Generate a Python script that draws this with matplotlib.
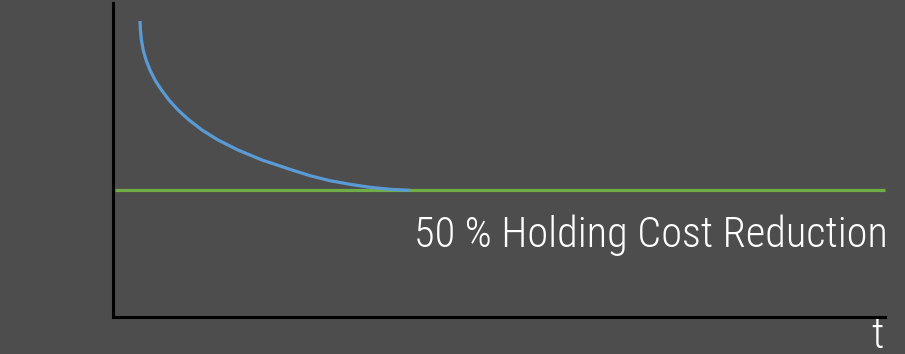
import matplotlib
matplotlib.use('Agg')
import matplotlib.pyplot as plt

# curve (t, cost) in axis units 0..100
curve_t = [3.50, 3.55, 3.68, 3.91, 4.28, 4.79, 5.44, 6.28, 7.25, 8.42, 9.85,
           11.53, 13.60, 16.19, 19.30, 23.19, 25.52, 28.11, 30.70, 33.29,
           35.88, 38.47]
curve_y = [94.27, 91.40, 88.22, 85.03, 81.85, 78.66, 75.48, 72.29, 69.11,
           65.92, 62.74, 59.55, 56.37, 53.18, 50.00, 46.82, 45.00, 43.41,
           42.26, 41.31, 40.67, 40.35]
level_t = [0.3, 100]
level_y = [40.3, 40.3]
label = '50 % Holding Cost Reduction'
x_label = 't'

bg = '#4d4d4d'
fig = plt.figure(figsize=(9.05, 3.54), dpi=100, facecolor=bg)
ax = fig.add_axes([113 / 905, 37 / 354, 772 / 905, 314 / 354])
ax.set_facecolor(bg)
ax.set_xlim(0, 100)
ax.set_ylim(0, 100)

ax.plot(level_t, level_y, color='#70ad47', lw=2.3, solid_capstyle='butt', clip_on=False)
ax.plot(curve_t, curve_y, color='#5b9bd5', lw=2.3, solid_capstyle='butt',
        solid_joinstyle='round', clip_on=False)

fonts = ['Roboto Condensed', 'Liberation Sans Narrow', 'Roboto']
ax.text(100.4, 22.3, label, ha='right', va='baseline', color='white',
        fontsize=30.5, family=fonts, weight='light', fontstretch='condensed')
ax.text(99.0, -10, x_label, ha='center', va='baseline', color='white',
        fontsize=31, family=fonts, weight='light', fontstretch='condensed')

for s in ['top', 'right']:
    ax.spines[s].set_visible(False)
for s in ['left', 'bottom']:
    ax.spines[s].set_color('black')
    ax.spines[s].set_linewidth(2.2)
ax.set_xticks([])
ax.set_yticks([])

fig.savefig('out.png', dpi=100, facecolor=bg)
